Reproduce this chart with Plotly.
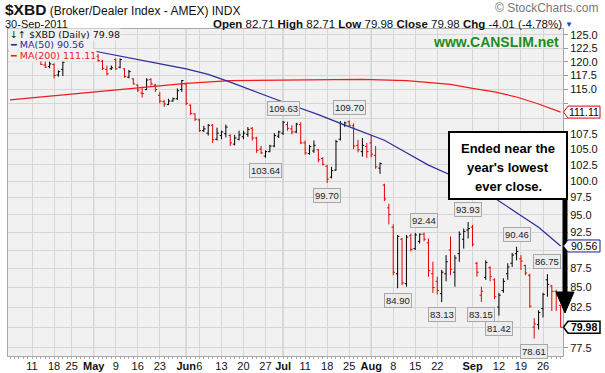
import math
import pandas as pd
import plotly.graph_objects as go

# ------------------------------------------------------------------ data
holidays = ["2011-04-22", "2011-05-30", "2011-07-04", "2011-09-05"]
trade_dates = [d.strftime("%Y-%m-%d") for d in pd.bdate_range("2011-04-04", "2011-09-30")
               if d.strftime("%Y-%m-%d") not in holidays]

opens = [122.0, 122.2, 122.1, 122.5, 122.1, 121.4, 121.1, 120.5, 119.4, 119.1,
         119.5, 117.6, 118.6, 120.3, 120.9, 121.0, 121.7, 122.0, 121.8, 121.8,
         121.0, 120.1, 118.6, 118.7, 120.4, 119.0, 118.7, 117.2, 116.9, 115.8,
         114.4, 115.0, 116.8, 115.8, 114.0, 112.9, 112.4, 113.0, 113.4, 115.0,
         116.0, 112.3, 110.8, 109.8, 108.0, 107.6, 108.9, 106.6, 107.2, 107.5,
         107.2, 105.8, 106.6, 107.0, 107.4, 108.4, 106.8, 105.0, 103.9, 104.6,
         105.5, 107.1, 107.6, 109.0, 108.3, 107.8, 109.0, 106.0, 104.3, 104.7,
         104.9, 103.5, 102.3, 100.6, 101.7, 106.6, 109.0, 109.5, 108.8, 105.6,
         104.6, 105.4, 106.0, 104.0, 102.0, 99.4, 96.0, 93.2, 86.8, 91.5,
         85.5, 92.0, 90.2, 91.2, 92.2, 91.0, 86.8, 85.8, 84.2, 86.8,
         90.0, 87.0, 89.5, 91.5, 92.8, 93.2, 88.2, 84.0, 86.3, 87.6,
         86.0, 82.5, 84.6, 86.8, 88.2, 89.5, 88.8, 87.9, 86.6, 80.0,
         80.3, 82.3, 86.0, 85.2, 84.5, 82.71]
highs = [122.6, 122.8, 123.0, 122.9, 122.5, 121.9, 121.6, 120.6, 120.1, 120.1,
         119.7, 118.4, 120.1, 121.2, 121.5, 121.9, 122.3, 122.4, 122.2, 121.9,
         121.4, 120.3, 119.3, 119.3, 120.6, 120.6, 118.8, 118.5, 117.0, 115.9,
         115.5, 117.0, 117.0, 116.0, 114.6, 113.2, 113.4, 113.6, 115.2, 116.7,
         116.2, 112.4, 110.9, 110.0, 108.8, 109.1, 109.1, 108.5, 108.0, 109.0,
         107.4, 107.3, 108.0, 108.0, 108.6, 108.6, 107.0, 105.5, 104.8, 105.7,
         107.6, 108.0, 109.63, 109.5, 108.9, 109.3, 109.4, 106.4, 105.7, 106.4,
         105.0, 103.7, 102.5, 102.2, 106.5, 109.6, 109.5, 109.70, 109.2, 106.5,
         106.8, 106.0, 107.3, 105.5, 102.9, 99.6, 96.6, 93.6, 92.1, 91.7,
         92.1, 92.3, 92.4, 92.3, 92.44, 91.6, 88.4, 86.4, 87.3, 89.3,
         91.9, 89.3, 92.6, 93.0, 93.93, 93.5, 88.4, 85.1, 88.6, 87.8,
         86.2, 84.3, 86.2, 88.2, 89.6, 90.46, 89.3, 88.0, 86.8, 81.1,
         82.1, 84.3, 86.75, 85.3, 84.7, 82.71]
lows = [121.5, 121.7, 121.8, 121.6, 121.1, 121.1, 121.0, 119.4, 118.9, 118.8,
        117.0, 117.3, 117.4, 120.1, 120.8, 120.9, 121.3, 121.4, 121.4, 120.6,
        120.0, 118.5, 117.5, 118.5, 118.5, 118.8, 117.1, 117.0, 115.9, 114.6,
        113.6, 114.9, 115.7, 114.6, 112.6, 112.0, 112.3, 112.9, 113.2, 114.6,
        112.3, 110.6, 109.6, 107.8, 107.8, 107.2, 106.0, 106.4, 106.6, 106.9,
        105.5, 105.6, 106.4, 106.6, 107.0, 106.4, 104.4, 104.2, 103.64, 104.5,
        105.3, 106.8, 107.3, 108.0, 107.4, 107.6, 105.8, 104.1, 104.1, 104.4,
        102.9, 102.4, 99.70, 100.4, 101.6, 106.4, 108.6, 108.7, 105.0, 104.5,
        103.8, 103.6, 103.7, 101.9, 101.1, 97.0, 93.6, 86.6, 84.90, 85.3,
        85.1, 89.8, 90.0, 90.9, 91.2, 86.4, 84.3, 84.1, 83.13, 85.8,
        86.6, 85.1, 88.4, 90.2, 91.6, 90.5, 86.4, 83.15, 86.0, 85.8,
        83.5, 81.42, 84.3, 86.0, 87.7, 88.6, 87.3, 86.6, 82.4, 78.61,
        79.7, 81.2, 83.8, 82.0, 82.0, 79.98]
closes = [122.2, 122.0, 122.6, 122.0, 121.3, 121.2, 121.3, 119.5, 119.0, 119.6,
          117.5, 118.2, 119.9, 120.9, 121.0, 121.7, 122.0, 121.8, 121.9, 120.8,
          120.2, 118.8, 117.8, 118.9, 118.7, 120.4, 117.3, 118.2, 116.0, 114.9,
          114.3, 116.7, 116.0, 115.0, 113.0, 112.5, 113.0, 113.4, 114.8, 116.6,
          112.6, 110.9, 109.9, 108.0, 108.3, 108.9, 106.5, 107.6, 107.8, 108.6,
          106.0, 106.8, 107.3, 107.6, 108.2, 106.8, 104.8, 104.4, 104.6, 105.5,
          107.2, 107.8, 109.4, 108.4, 107.8, 109.1, 106.0, 104.4, 105.4, 105.6,
          103.3, 102.6, 100.3, 101.6, 106.2, 109.2, 109.3, 108.9, 105.5, 104.9,
          105.6, 104.6, 104.2, 102.2, 102.7, 97.3, 95.0, 87.0, 91.9, 85.6,
          91.8, 90.1, 92.1, 92.2, 91.5, 87.2, 85.0, 84.6, 87.0, 88.4,
          87.4, 88.9, 92.2, 92.6, 93.0, 90.8, 87.0, 84.5, 88.3, 86.4,
          83.8, 84.0, 85.8, 87.7, 89.3, 89.8, 88.5, 86.9, 82.6, 80.4,
          81.8, 84.1, 85.4, 84.5, 83.99, 79.98]

# header quote values
quote_open, quote_high, quote_low, quote_close = 82.71, 82.71, 79.98, 79.98
quote_chg, quote_chg_pct = -4.01, -4.78

# moving averages (trading-day position, value)
ma50_pos = [19, 25, 30, 35, 40, 45, 50, 55, 60, 65, 70, 75, 80, 85, 90, 95, 100, 105, 110, 115, 120, 125]
ma50_val = [121.98, 120.98, 120.21, 119.47, 118.69, 117.70, 116.32, 114.79, 113.41, 112.03, 110.69,
            109.22, 107.85, 106.43, 104.41, 102.47, 100.92, 99.21, 97.46, 95.27, 93.18, 90.56]
ma200_pos = [0, 10, 20, 30, 40, 50, 60, 70, 80, 90, 100, 105, 110, 115, 120, 125]
ma200_val = [113.2, 113.9, 114.6, 115.35, 116.1, 116.6, 116.7, 116.8, 116.8, 116.6, 115.9,
             115.2, 114.6, 113.7, 112.5, 111.11]

# price labels
peak_dates = ["2011-07-01", "2011-07-25", "2011-08-17", "2011-08-31", "2011-09-16", "2011-09-27"]
peak_vals = [109.63, 109.70, 92.44, 93.93, 90.46, 86.75]
trough_dates = ["2011-06-27", "2011-07-18", "2011-08-09", "2011-08-23", "2011-09-06", "2011-09-12", "2011-09-22"]
trough_vals = [103.64, 99.70, 84.90, 83.13, 83.15, 81.42, 78.61]

x_tick_dates = ["2011-04-11", "2011-04-18", "2011-04-25", "2011-05-02", "2011-05-09", "2011-05-16",
                "2011-05-23", "2011-06-01", "2011-06-06", "2011-06-13", "2011-06-20", "2011-06-27",
                "2011-07-01", "2011-07-11", "2011-07-18", "2011-07-25", "2011-08-01", "2011-08-08",
                "2011-08-15", "2011-08-22", "2011-09-01", "2011-09-12", "2011-09-19", "2011-09-26"]
x_tick_labels = ["11", "18", "25", "May", "9", "16", "23", "Jun", "6", "13", "20", "27",
                 "Jul", "11", "18", "25", "Aug", "8", "15", "22", "Sep", "12", "19", "26"]
y_ticks = [77.5, 80.0, 82.5, 85.0, 87.5, 90.0, 92.5, 95.0, 97.5, 100.0, 102.5, 105.0,
           107.5, 110.0, 112.5, 115.0, 117.5, 120.0, 122.5, 125.0]
y_range = [76.55, 126.15]

# ------------------------------------------------------------------ geometry helpers
FIG_W, FIG_H = 605, 373
L, R, T, B = 8, 563, 29, 356
W, H = R - L, B - T
LO, HI = math.log10(y_range[0]), math.log10(y_range[1])


def xp(px):
    return (px - L) / W


def yp(py):
    return (B - py) / H


def ypix(v):
    return B - H * (math.log10(v) - LO) / (HI - LO)


idx = {d: i for i, d in enumerate(trade_dates)}
n = len(trade_dates)
xs = list(range(n))

PLOT_BG = "#f1f1f1"
RED = "#e60000"
BLUE = "#2b2b9c"
MA_RED = "#ee1c1c"

fig = go.Figure()

fig.add_trace(go.Scatter(x=ma200_pos, y=ma200_val, mode="lines", line=dict(color=MA_RED, width=1.2),
                         hoverinfo="skip", showlegend=False))
fig.add_trace(go.Scatter(x=ma50_pos, y=ma50_val, mode="lines", line=dict(color=BLUE, width=1.2),
                         hoverinfo="skip", showlegend=False))

up = [i == 0 or closes[i] >= closes[i - 1] for i in range(n)]
for flag, col in [(True, "#000000"), (False, RED)]:
    sel = [i for i in range(n) if up[i] == flag]
    fig.add_trace(go.Ohlc(
        x=[xs[i] for i in sel],
        open=[opens[i] for i in sel], high=[highs[i] for i in sel],
        low=[lows[i] for i in sel], close=[closes[i] for i in sel],
        increasing=dict(line=dict(color=col, width=1)),
        decreasing=dict(line=dict(color=col, width=1)),
        tickwidth=0.4, showlegend=False, hoverinfo="skip"))

shapes = []
for lab, d in zip(x_tick_labels, x_tick_dates):
    if lab.isalpha():
        shapes.append(dict(type="line", xref="x", yref="paper", x0=idx[d], x1=idx[d], y0=0, y1=1,
                           line=dict(color="#b4b4b4", width=1), layer="below"))

shapes.append(dict(type="rect", xref="paper", yref="paper", x0=xp(L + 0.5), x1=xp(93), y0=yp(59.5),
                   y1=yp(T + 0.5), fillcolor=PLOT_BG, line=dict(width=0), layer="above"))

shapes.append(dict(type="rect", xref="paper", yref="paper", x0=xp(449), x1=xp(567), y0=yp(199), y1=yp(132),
                   fillcolor="white", line=dict(color="black", width=2), layer="above"))
shapes.append(dict(type="line", xref="paper", yref="paper", x0=xp(565), x1=xp(565), y0=yp(199), y1=yp(296),
                   line=dict(color="black", width=5), layer="above"))
shapes.append(dict(type="path", xref="paper", yref="paper",
                   path=f"M {xp(556)} {yp(292)} L {xp(574)} {yp(292)} L {xp(565)} {yp(313)} Z",
                   fillcolor="black", line=dict(color="black", width=1), layer="above"))

annotations = []


def text(x, y, s, size=11, color="#111", xanchor="left", yanchor="middle", family="Liberation Sans",
         bg=None, **kw):
    a = dict(x=x, y=y, xref="paper", yref="paper", text=s, showarrow=False, xanchor=xanchor,
             yanchor=yanchor, font=dict(size=size, color=color, family=family))
    if bg:
        a["bgcolor"] = bg
    a.update(kw)
    annotations.append(a)


text(xp(4), yp(10), "<span style='font-size:15.5px'><b>$XBD</b></span> (Broker/Dealer Index - AMEX) INDX",
     size=12, borderpad=0)
text(xp(600), yp(8), "© StockCharts.com", size=12, color="#777", xanchor="right", borderpad=0)
text(xp(4), yp(24), "30-Sep-2011", size=11, borderpad=0)
text(xp(563), yp(24.5),
     f"<b>Open</b> {quote_open:.2f} <b>High</b> {quote_high:.2f} <b>Low</b> {quote_low:.2f} "
     f"<b>Close</b> {quote_close:.2f} <b>Chg</b> {quote_chg:.2f} ({quote_chg_pct:.2f}%)",
     size=11.5, xanchor="right", borderpad=0)
text(xp(564), yp(25), "▼", size=8, color="#2040d0", borderpad=0)

text(xp(9), yp(34.5), f"↓↑ $XBD (Daily) {closes[-1]:.2f}", size=9.5, family="DejaVu Sans", bg=PLOT_BG,
     borderpad=0)
text(xp(9), yp(45), f"<b>━</b> MA(50) {ma50_val[-1]:.2f}", size=9.5, color=BLUE, family="DejaVu Sans",
     bg=PLOT_BG, borderpad=0)
text(xp(9), yp(55.5), f"<b>━</b> MA(200) {ma200_val[-1]:.2f}", size=9.5, color=MA_RED, family="DejaVu Sans",
     bg=PLOT_BG, borderpad=0)

text(xp(496), yp(42), "<b>www.CANSLIM.net</b>", size=14, color="#1e8c1e", xanchor="center")

for line, yy in zip(["Ended near the", "year's lowest", "ever close."], [148, 167, 186]):
    text(xp(508), yp(yy), f"<b>{line}</b>", size=13, color="#000", xanchor="center")

markers = [(ma200_val[-1], "#e00000", False), (ma50_val[-1], "#1a1a8c", False), (closes[-1], "#000000", True)]
for val, col, bold in markers:
    cy = ypix(val)
    shapes.append(dict(type="path", xref="paper", yref="paper",
                       path=(f"M {xp(R + 0.5)} {yp(cy)} L {xp(568)} {yp(cy - 6)} L {xp(600)} {yp(cy - 6)} "
                             f"L {xp(600)} {yp(cy + 6)} L {xp(568)} {yp(cy + 6)} Z"),
                       fillcolor="white", line=dict(color=col, width=1.5 if bold else 1), layer="above"))
    s = f"{val:.2f}"
    text(xp(584), yp(cy), f"<b>{s}</b>" if bold else s, size=10.5, color="#000", xanchor="center",
         borderpad=0)

lab_style = dict(showarrow=False, bgcolor="#ececec", bordercolor="#a8a8a8", borderwidth=1, borderpad=1,
                 font=dict(size=9.5, color="#222", family="Liberation Sans"), xref="x", yref="y",
                 xanchor="center")
for d, v in zip(peak_dates, peak_vals):
    annotations.append(dict(x=idx[d], y=math.log10(v), text=f"{v:.2f}", yanchor="bottom", yshift=5, **lab_style))
for d, v in zip(trough_dates, trough_vals):
    annotations.append(dict(x=idx[d], y=math.log10(v), text=f"{v:.2f}", yanchor="top", yshift=-5, **lab_style))

tick_text = [f"<b>{t}</b>" if t.isalpha() else t for t in x_tick_labels]
y_ticktext = [("" if any(abs(ypix(t) - ypix(m[0])) < 9 for m in markers) else f"{t:.1f}") for t in y_ticks]

fig.update_layout(
    width=FIG_W, height=FIG_H,
    margin=dict(l=L, r=FIG_W - R, t=T, b=FIG_H - B, autoexpand=False),
    paper_bgcolor="white", plot_bgcolor=PLOT_BG,
    showlegend=False, hovermode=False,
    font=dict(family="Liberation Sans", size=11, color="#111"),
    shapes=shapes, annotations=annotations,
    xaxis=dict(range=[-0.454, 125.54], tickmode="array", tickvals=[idx[d] for d in x_tick_dates],
               ticktext=tick_text, tickangle=0, automargin=False, showgrid=True, gridcolor="#d6d6d6",
               gridwidth=1, zeroline=False, showline=True, linecolor="#a8a8a8", mirror=True,
               ticks="", tickfont=dict(size=11, color="#111"),
               minor=dict(tickmode="linear", tick0=0, dtick=1, ticks="outside", ticklen=2,
                          tickcolor="#aaa", showgrid=False),
               rangeslider=dict(visible=False), fixedrange=True),
    yaxis=dict(type="log", range=[LO, HI], side="right", tickmode="array", tickvals=y_ticks,
               ticktext=y_ticktext, automargin=False, showgrid=True, gridcolor="#d6d6d6",
               zeroline=False, showline=True, linecolor="#a8a8a8", mirror=True, ticks="outside",
               ticklen=4, tickcolor="#999", tickfont=dict(size=11, color="#111"), fixedrange=True),
)

fig.write_html("out.html", config={"displayModeBar": False},
               post_script="document.body.style.margin='0';document.body.style.padding='0';")
